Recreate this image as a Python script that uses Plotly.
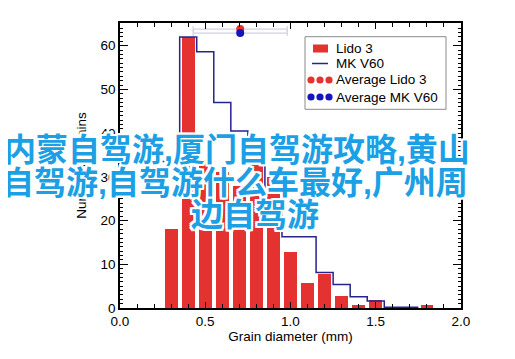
import plotly.graph_objects as go

# ---- data ----
lido_centers = [0.3, 0.4, 0.5, 0.6, 0.7, 0.8, 0.9, 1.0, 1.1, 1.2, 1.3, 1.4, 1.5, 1.6, 1.7, 1.8]
lido3 = [18, 62, 34, 31, 28, 37, 30, 12.8, 5.7, 7.7, 2.7, 0.7, 1.8, 0, 0, 0.7]

mk_centers = [0.3, 0.4, 0.5, 0.6, 0.7, 0.8, 0.9, 1.0, 1.1, 1.2, 1.3, 1.4, 1.5, 1.6, 1.7]
mkv60 = [33.5, 62, 58.6, 47, 40.5, 38.5, 24, 16.3, 16.3, 8.1, 5.4, 2.6, 1.6, 0.2, 0.2]
bin_width = 0.1

avg_names = ["Average Lido 3", "Average MK V60"]
avg_x = [0.705, 0.705]
avg_err = [0.276, 0.276]
avg_y = [63.8, 62.9]

legend_labels = ["Lido 3", "MK V60", "Average Lido 3", "Average MK V60"]
overlay_lines = ["内蒙自驾游,厦门自驾游攻略,黄山", "自驾游,自驾游什么车最好,广州周", "边自驾游"]

x_ticks = [0.0, 0.5, 1.0, 1.5, 2.0]
x_ticklabels = ["0.0", "0.5", "1.0", "1.5", "2.0"]
y_ticks = [0, 10, 20, 30, 40, 50, 60]

# ---- layout constants (page pixels) ----
W, H = 515, 359
BODY = 8                      # default page margin of the html body
PL, PR, PT, PB = 120, 461, 23, 308   # plot area in the page


def px(xp):
    return (xp - PL) / (PR - PL)


def py(yp):
    return (PB - yp) / (PB - PT)


FONT = "Liberation Sans, Arial, Helvetica, sans-serif"
RED = "#e3322f"
NAVY = "#24248e"
BLUE = "#1515c0"

edges = [c - bin_width / 2 for c in mk_centers] + [mk_centers[-1] + bin_width / 2]
step_y = mkv60 + [mkv60[-1]]

fig = go.Figure()
fig.add_trace(go.Bar(x=lido_centers, y=lido3, width=0.075, name=legend_labels[0],
                     marker=dict(color=RED, line=dict(width=0))))
fig.add_trace(go.Scatter(x=edges, y=step_y, mode="lines", name=legend_labels[1],
                         line=dict(color=NAVY, width=1.5, shape="hv")))
for name, x, e, y, col in zip(avg_names, avg_x, avg_err, avg_y, [RED, BLUE]):
    fig.add_trace(go.Scatter(x=[x], y=[y], mode="markers", name=name,
                             marker=dict(color=col, size=8),
                             error_x=dict(type="data", array=[e], color="#d2d2e2",
                                          thickness=1.2, width=3)))

# ---- overlay text with white outline ----
shadow = ", ".join(f"{dx}px {dy}px 0 #fff" for dx, dy in
                   [(2, 2), (-2, -2), (2, -2), (-2, 2), (0, 2), (0, -2), (2, 0), (-2, 0)])
line_left = [2, 0, 189]
line_mid = [150, 183, 215]
for txt, lx, ly in zip(overlay_lines, line_left, line_mid):
    fig.add_annotation(text=txt, xref="paper", yref="paper", x=px(lx), y=py(ly),
                       xanchor="left", yanchor="middle", showarrow=False,
                       font=dict(family="Liberation Sans, Noto Sans CJK SC", size=32,
                                 color="#1c9fe4", weight=700, shadow=shadow))

# ---- legend box (drawn as layout shapes / text) ----
LX0, LX1, LY0, LY1 = 305, 446, 36.7, 109.3
rows = [48.5, 63.5, 80, 97]
text_x = 336
shapes = [dict(type="rect", xref="paper", yref="paper", x0=px(LX0), x1=px(LX1),
               y0=py(LY1), y1=py(LY0), line=dict(color="#8a8a8a", width=1),
               fillcolor="white", layer="above")]
# bar swatch
shapes.append(dict(type="rect", xref="paper", yref="paper", x0=px(313), x1=px(328),
                   y0=py(rows[0] + 4), y1=py(rows[0] - 4), line=dict(width=0),
                   fillcolor=RED, layer="above"))
# line swatch
shapes.append(dict(type="line", xref="paper", yref="paper", x0=px(312), x1=px(328),
                   y0=py(rows[1]), y1=py(rows[1]), line=dict(color=NAVY, width=1.5),
                   layer="above"))
# dot swatches
for r, col in zip(rows[2:], [RED, BLUE]):
    for cx in [311, 320, 329]:
        shapes.append(dict(type="circle", xref="paper", yref="paper",
                           x0=px(cx - 3.6), x1=px(cx + 3.6), y0=py(r + 3.6), y1=py(r - 3.6),
                           line=dict(width=0), fillcolor=col, layer="above"))
for lab, r in zip(legend_labels[:2] + avg_names, rows):
    fig.add_annotation(text=lab, xref="paper", yref="paper", x=px(text_x - 2), y=py(r),
                       xanchor="left", yanchor="middle", showarrow=False,
                       font=dict(family=FONT, size=13.5, color="black"))

axis_common = dict(showline=True, linecolor="black", linewidth=1.5, mirror="allticks",
                   ticks="inside", tickcolor="black", showgrid=False, zeroline=False,
                   automargin=False,
                   tickfont=dict(family=FONT, size=13.5, color="black"))

fig.update_xaxes(range=[0, 2], tickvals=x_ticks, ticktext=x_ticklabels, ticklen=6, tickwidth=1,
                 minor=dict(dtick=0.1, ticklen=4, tickcolor="black", ticks="inside", showgrid=False),
                 title=dict(text="Grain diameter (mm)", font=dict(family=FONT, size=13.5, color="black"),
                            standoff=0),
                 **axis_common)
fig.update_yaxes(range=[0, 65.2], tickvals=y_ticks, ticklen=8, tickwidth=1,
                 minor=dict(dtick=1, ticklen=3.5, tickcolor="black", ticks="inside", showgrid=False),
                 title=dict(text="Number of Grains", font=dict(family=FONT, size=13.5, color="black"),
                            standoff=11),
                 **axis_common)

fig.update_layout(
    width=W, height=H,
    margin=dict(l=PL - BODY, r=W + BODY - PR, t=PT - BODY, b=H + BODY - PB),
    paper_bgcolor="white", plot_bgcolor="white",
    bargap=0,
    shapes=shapes,
    showlegend=False,
)

fig.write_html("out.html")
